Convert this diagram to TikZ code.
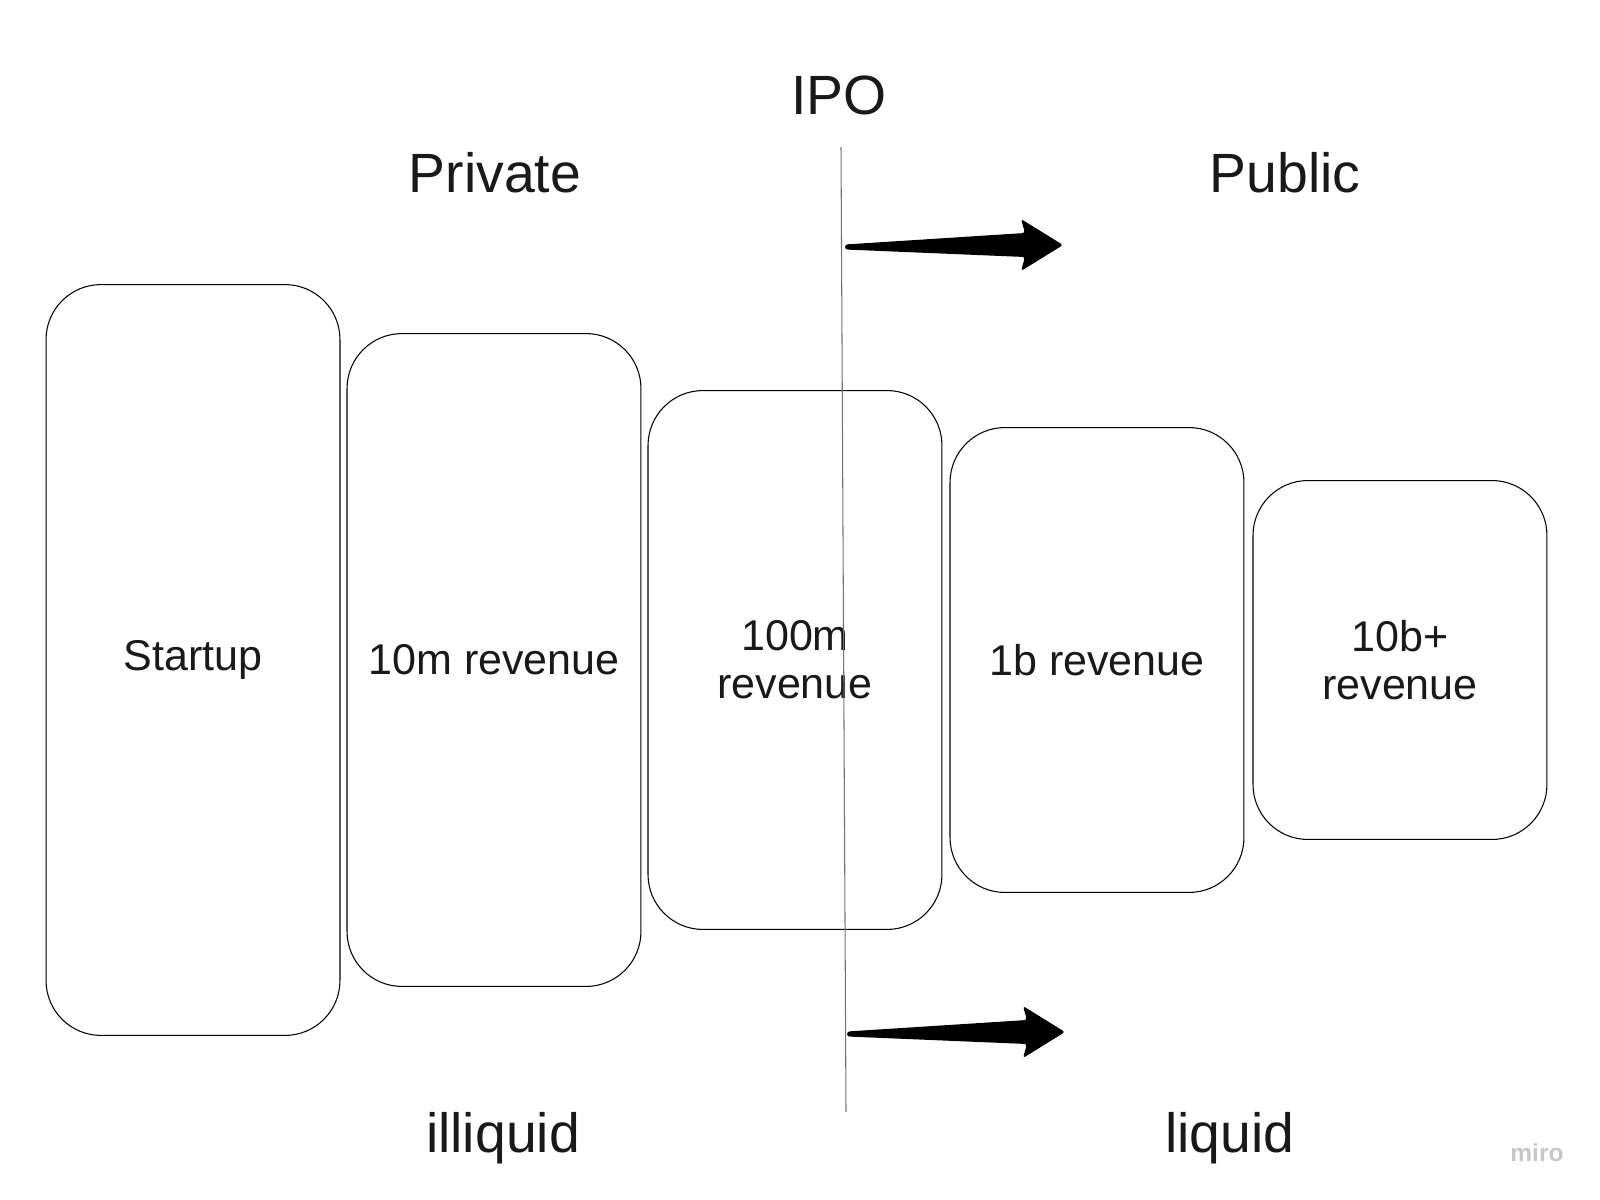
\documentclass[tikz,border=0pt]{standalone}
\usepackage{fontspec}
\setmainfont{Liberation Sans}
\usepackage{tikz}
\usetikzlibrary{positioning}

\begin{document}
\begin{tikzpicture}[
  x=0.02cm, y=-0.02cm,
  stage/.style={draw, line width=0.6pt, rounded corners=1.1cm, minimum width=5.88cm,
                align=center, text=black!90, font=\fontsize{24.5}{27.5}\selectfont},
  head/.style={anchor=base, text=black!90, font=\fontsize{31.5}{38}\selectfont},
  fatarrow/.style={fill=black, rounded corners=1.5pt},
]
  \useasboundingbox (0,0) rectangle (1600,1200);

  % stages, all centred on one line
  \node[stage, minimum height=15.02cm] at (193,660) (st)  {Startup};
  \node[stage, minimum height=13.06cm, right=0.12cm of st]  (r10m)  {10m revenue};
  \node[stage, minimum height=10.78cm, right=0.12cm of r10m] (r100m) {100m\\revenue};
  \node[stage, minimum height=9.3cm,   right=0.14cm of r100m] (r1b)  {1b revenue};
  \node[stage, minimum height=7.18cm,  right=0.16cm of r1b]  (r10b)  {10b+\\revenue};

  % headings
  \node[head] (ipo)  at (839,114)  {IPO};
  \node[head] (priv) at (495,192)  {Private};
  \node[head] (pub)  at (1285,192) {Public};
  \node[head] (ill)  at (503,1152) {illiquid};
  \node[head] (liq)  at (1230,1152) {liquid};

  % IPO line
  \coordinate (ipotop) at (841,147);
  \coordinate (ipobot) at (846,1112);
  \draw[black!55, line width=0.6pt] (ipotop) -- (ipobot);

  % wide arrows
  \coordinate (a1) at (845,247);
  \coordinate (a2) at (847,1034);
  \foreach \a in {a1, a2}
    \fill[fatarrow] (\a) ++(0,-2.5) -- ++(180,-11.5) -- ++(-4,-14) -- ++(42,26)
      -- ++(-42,26) -- ++(4,-14) -- ++(-180,-7.5) -- cycle;

  % watermark
  \node[text=black!22, font=\bfseries\fontsize{14}{16}\selectfont] (miro) at (1537,1153) {miro};
\end{tikzpicture}
\end{document}
